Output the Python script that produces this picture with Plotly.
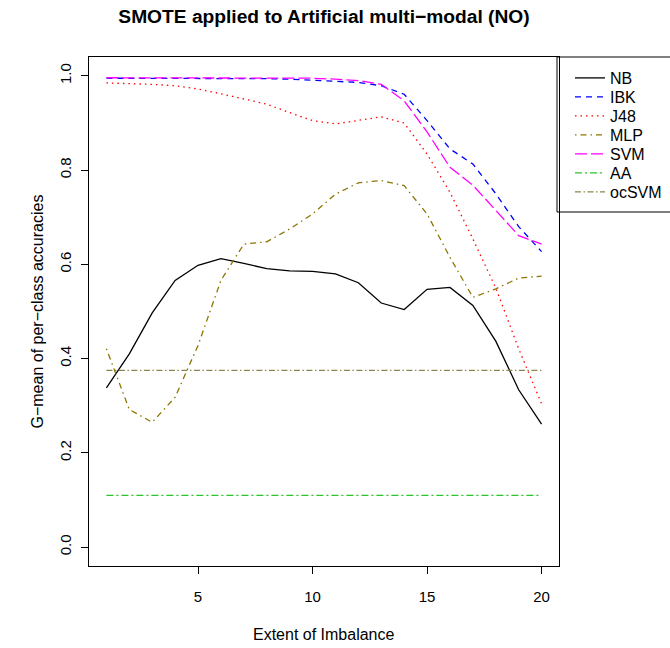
import plotly.graph_objects as go

x = list(range(1, 21))
nb = [0.338, 0.410, 0.497, 0.566, 0.598, 0.612, 0.602, 0.591, 0.586, 0.585,
      0.580, 0.561, 0.518, 0.504, 0.547, 0.551, 0.513, 0.437, 0.334, 0.261]
ibk = [0.995, 0.995, 0.995, 0.995, 0.995, 0.995, 0.995, 0.994, 0.993, 0.991,
       0.989, 0.986, 0.979, 0.961, 0.905, 0.845, 0.813, 0.750, 0.680, 0.627]
j48 = [0.985, 0.984, 0.982, 0.979, 0.972, 0.962, 0.951, 0.940, 0.922, 0.905,
       0.898, 0.905, 0.913, 0.900, 0.834, 0.753, 0.654, 0.550, 0.421, 0.304]
mlp = [0.421, 0.292, 0.265, 0.318, 0.428, 0.566, 0.643, 0.648, 0.675, 0.707,
       0.749, 0.773, 0.778, 0.767, 0.707, 0.615, 0.530, 0.548, 0.571, 0.575]
svm = [0.996, 0.996, 0.996, 0.996, 0.996, 0.996, 0.996, 0.996, 0.995, 0.995,
       0.993, 0.990, 0.982, 0.947, 0.881, 0.806, 0.768, 0.715, 0.661, 0.643]
aa = [0.110] * 20
ocsvm = [0.375] * 20

names = ["NB", "IBK", "J48", "MLP", "SVM", "AA", "ocSVM"]
values = [nb, ibk, j48, mlp, svm, aa, ocsvm]
colors = ["#000000", "#0000FF", "#FF0000", "#8B7500", "#FF00FF", "#2CC42C", "#8B864E"]
dashes = ["solid", "6px,5px", "1.5px,4px", "1.5px,4px,6px,4px", "12px,4px",
          "7px,3px,2px,3px", "6px,2.5px,1.5px,2.5px"]

W, H = 670, 648
L, R, T, B = 89, 559, 57, 566   # plot box in pixels
font = "Liberation Sans, Arial, sans-serif"


def px_x(p):
    return (p - L) / (R - L)


def px_y(p):
    return (B - p) / (B - T)


fig = go.Figure()
legends = {}
for i, (name, vals, col, dash) in enumerate(zip(names, values, colors, dashes)):
    key = "legend" if i == 0 else f"legend{i + 1}"
    fig.add_trace(go.Scatter(x=x, y=vals, mode="lines", name=name, legend=key,
                             line=dict(color=col, width=1.3, dash=dash)))
    legends[key] = dict(x=px_x(570), y=px_y(78 + 19 * i), xanchor="left",
                        yanchor="middle", bgcolor="rgba(0,0,0,0)", borderwidth=0,
                        font=dict(size=16, family=font, color="black"))

fig.update_layout(
    width=W, height=H,
    margin=dict(l=L, r=W - R, t=T, b=H - B, autoexpand=False),
    paper_bgcolor="white", plot_bgcolor="white",
    font=dict(family=font, size=16, color="black"),
    title=dict(text="<b>SMOTE applied to Artificial multi−modal (NO)</b>",
               x=0.5, xref="paper", xanchor="center",
               y=1 - 16.5 / H, yref="container", yanchor="middle",
               font=dict(size=19.2, family=font, color="black")),
    showlegend=True,
    shapes=[dict(type="rect", xref="paper", yref="paper",
                 x0=px_x(557), x1=px_x(700), y0=px_y(212), y1=px_y(57),
                 line=dict(color="black", width=1), fillcolor="white",
                 layer="below")],
    xaxis=dict(range=[0.24, 20.76], tickvals=[5, 10, 15, 20],
               showgrid=False, zeroline=False, showline=True, mirror=True,
               linecolor="black", linewidth=1, ticks="outside", ticklen=7,
               tickcolor="black", tickfont=dict(size=15), ticklabelstandoff=10),
    yaxis=dict(range=[-0.04, 1.04], tickvals=[0, 0.2, 0.4, 0.6, 0.8, 1.0],
               tickformat=".1f", tickangle=-90,
               showgrid=False, zeroline=False, showline=True, mirror=True,
               linecolor="black", linewidth=1, ticks="outside", ticklen=7,
               tickcolor="black", tickfont=dict(size=15), ticklabelstandoff=4),
    annotations=[
        dict(text="Extent of Imbalance", x=0.5, y=0, xref="paper", yref="paper",
             xanchor="center", yanchor="middle", yshift=-(634 - B), showarrow=False,
             font=dict(size=16)),
        dict(text="G−mean of per−class accuracies", x=0, y=0.5, xref="paper",
             yref="paper", xanchor="center", yanchor="middle", xshift=-(L - 37),
             textangle=-90, showarrow=False, font=dict(size=16)),
    ],
)
fig.update_layout(**legends)

fig.write_html("out.html")
